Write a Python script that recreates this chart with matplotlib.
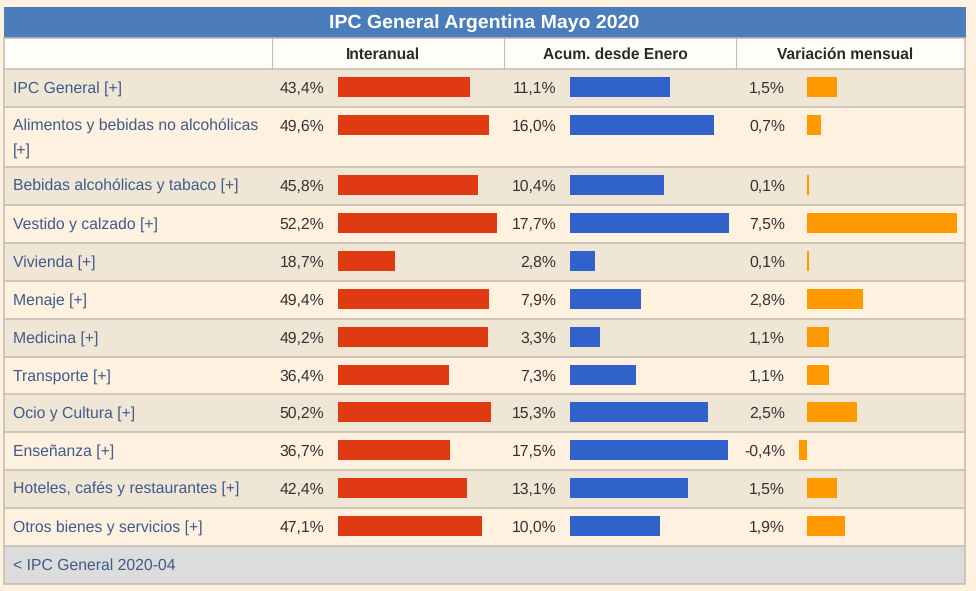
import matplotlib
matplotlib.use('Agg')
import matplotlib.pyplot as plt
from matplotlib.patches import Rectangle

plt.rcParams['font.family'] = ['Liberation Sans', 'DejaVu Sans']
plt.rcParams['text.hinting'] = 'no_hinting'
plt.rcParams['text.hinting_factor'] = 8

W, H = 976, 591

title = 'IPC General Argentina Mayo 2020'
headers = ['Interanual', 'Acum. desde Enero', 'Variación mensual']
categories = ['IPC General [+]', 'Alimentos y bebidas no alcohólicas\n[+]',
              'Bebidas alcohólicas y tabaco [+]', 'Vestido y calzado [+]',
              'Vivienda [+]', 'Menaje [+]', 'Medicina [+]', 'Transporte [+]',
              'Ocio y Cultura [+]', 'Enseñanza [+]',
              'Hoteles, cafés y restaurantes [+]', 'Otros bienes y servicios [+]']
interanual = [43.4, 49.6, 45.8, 52.2, 18.7, 49.4, 49.2, 36.4, 50.2, 36.7, 42.4, 47.1]
acumulado = [11.1, 16.0, 10.4, 17.7, 2.8, 7.9, 3.3, 7.3, 15.3, 17.5, 13.1, 10.0]
mensual = [1.5, 0.7, 0.1, 7.5, 0.1, 2.8, 1.1, 1.1, 2.5, -0.4, 1.5, 1.9]
footer = '< IPC General 2020-04'

# layout, in pixels of the screenshot
row_edges = [69, 107, 167, 205, 243, 281, 319, 357, 394, 432, 470, 508, 546]
col_edges = [4, 272, 504, 736, 965]
bar_starts = [338, 570, 807]
label_right = [324, 556, 785]
px_per_unit = [3.05, 9.0, 20.0]

BG = '#fef1e0'
ROW_ODD = '#f0e6d6'
GRID = '#c2bbb0'
LINK = '#3f5a8c'
TEXT = '#333333'
FS = 11.3

fig = plt.figure(figsize=(W / 100, H / 100), dpi=100, facecolor=BG)
ax = fig.add_axes([0, 0, 1, 1])
ax.set_xlim(0, W)
ax.set_ylim(H, 0)
ax.axis('off')


def cell(x0, y0, x1, y1, color):
    ax.add_patch(Rectangle((x0, y0), x1 - x0, y1 - y0, facecolor=color,
                           edgecolor='none', zorder=1))


left, right = col_edges[0], col_edges[-1]

# title and header
cell(left, 7, right + 1, 38, '#4b7dbd')
ax.text(484, 28, title, color='white', fontsize=14.0,
        fontweight='bold', ha='center', va='baseline', zorder=3)
cell(left, 38, right, 69, '#fffdfa')
for i, h in enumerate(headers):
    ax.text((col_edges[i + 1] + col_edges[i + 2]) / 2 - 5, 59, h, color='#2a2a2a',
            fontsize=11.2, fontweight='bold', ha='center', va='baseline', zorder=3)

# rows
for i, name in enumerate(categories):
    top, bottom = row_edges[i], row_edges[i + 1]
    cell(left, top, right, bottom, ROW_ODD if i % 2 == 0 else BG)
    # two-line label only in the tall row
    lines = name.split('\n')
    for j, line in enumerate(lines):
        ax.text(13, top + 24 + j * 23.5, line, color=LINK, fontsize=FS,
                ha='left', va='baseline', zorder=3)

# footer
cell(left, row_edges[-1], right, 584, '#dcdcdc')
ax.text(13, 570, footer, color=LINK, fontsize=FS, ha='left', va='baseline', zorder=3)

# grid lines
for y in [38, 69] + row_edges[1:] + [584]:
    ax.plot([left, right], [y, y], color=GRID, lw=1.1, zorder=2, solid_capstyle='butt')
ax.plot([left, left], [38, 584], color=GRID, lw=1.1, zorder=2)
ax.plot([right, right], [38, 584], color=GRID, lw=1.1, zorder=2)
for x in col_edges[1:-1]:
    ax.plot([x, x], [38, 69], color=GRID, lw=0.8, zorder=2)

# bars, one axes per column sharing the pixel rows
centers = [row_edges[i] + 18 for i in range(len(categories))]
series = [interanual, acumulado, mensual]
colors = ['#df3a12', '#3162cb', '#ff9900']
for k, (vals, color) in enumerate(zip(series, colors)):
    x0, x1 = col_edges[k + 1], col_edges[k + 2]
    bar_ax = fig.add_axes([x0 / W, 0, (x1 - x0) / W, 1])
    bar_ax.patch.set_alpha(0)
    bar_ax.axis('off')
    scale = px_per_unit[k]
    bar_ax.set_xlim((x0 - bar_starts[k]) / scale, (x1 - bar_starts[k]) / scale)
    bar_ax.set_ylim(H, 0)
    bar_ax.barh(centers, vals, height=20, color=color, linewidth=0)
    for c, v in zip(centers, vals):
        ax.text(label_right[k], c + 6, f'{v:.1f}%'.replace('.', ','), color=TEXT,
                fontsize=FS, ha='right', va='baseline', zorder=3)

fig.savefig('out.png', dpi=100, facecolor=BG)
